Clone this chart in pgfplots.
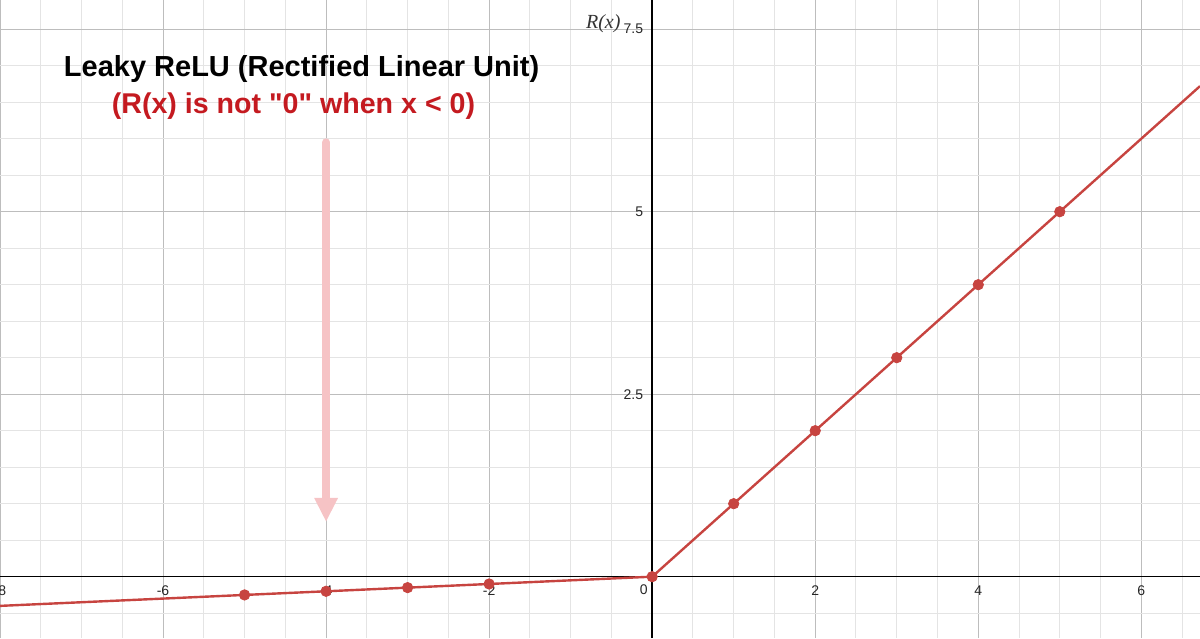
\documentclass[border=0pt]{standalone}
\usepackage{pgfplots}
\pgfplotsset{compat=1.18}
\usetikzlibrary{arrows.meta}
\usepackage{fontspec}
\setmainfont{Liberation Sans}
\newfontfamily\serifit{Liberation Serif}
% straight double quote without the TeX quote mapping
\font\quotefont="Liberation Sans/B" at 14.3pt
\newcommand{\sq}{{\quotefont\char34}}

\definecolor{relured}{HTML}{C74440}
\definecolor{notered}{HTML}{C41A20}
\definecolor{arrowpink}{HTML}{F6C3C5}
\definecolor{majorgrid}{HTML}{BDBDBD}
\definecolor{minorgrid}{HTML}{E4E4E4}

\begin{document}
\begin{tikzpicture}
\begin{axis}[
  scale only axis,
  width=600pt, height=319pt,
  xmin=-8.0, xmax=6.72,
  ymin=-0.84, ymax=7.9,
  axis lines=middle,
  axis line style={-, black, line width=0.8pt},
  xtick={-8,-6,-4,-2,2,4,6},
  ytick={2.5,5,7.5},
  minor xtick={-7.5,-7,...,6.5},
  minor ytick={-0.5,0,...,7.5},
  grid=both,
  major grid style={majorgrid, line width=0.5pt},
  minor grid style={minorgrid, line width=0.5pt},
  major tick length=0pt,
  minor tick length=0pt,
  tick label style={font=\fontsize{7}{8}\selectfont, text=black!85},
  xticklabel style={yshift=-1pt},
  yticklabel style={xshift=-1pt},
  /pgf/number format/assume math mode=true,
  clip=false,
]
% leaky ReLU line
\addplot[relured, line width=1.2pt] coordinates {
  (-8,-0.4) (-5,-0.25) (-4,-0.2) (-3,-0.15) (-2,-0.1) (0,0)
  (1,1) (2,2) (3,3) (4,4) (5,5) (6.72,6.72)
};
% sample points
\addplot[only marks, mark=*, mark size=2.6pt, color=relured] coordinates {
  (-5,-0.25) (-4,-0.2) (-3,-0.15) (-2,-0.1) (0,0)
  (1,1) (2,2) (3,3) (4,4) (5,5)
};

\node[anchor=north east, font=\fontsize{7}{8}\selectfont, text=black!85, inner sep=2pt]
  at (axis cs:0,-0.05) {0};
\node[font=\serifit\itshape\fontsize{10}{12}\selectfont, text=black!80]
  at (axis cs:-0.6,7.58) {R(x)};

\draw[arrowpink, line width=4pt, line cap=round, -{Triangle[width=11pt,length=12pt]}]
  (axis cs:-4,5.95) -- (axis cs:-4,0.75);

\node[font=\bfseries\fontsize{14.5}{17}\selectfont, text=black]
  at (axis cs:-4.30,6.95) {Leaky ReLU (Rectified Linear Unit)};
\node[font=\bfseries\fontsize{14.3}{17}\selectfont, text=notered]
  at (axis cs:-4.40,6.45) {(R(x) is not \sq0\sq\ when x < 0)};
\end{axis}
\pgfresetboundingbox
\useasboundingbox (0,0) rectangle (600pt,319pt);
\end{tikzpicture}
\end{document}
